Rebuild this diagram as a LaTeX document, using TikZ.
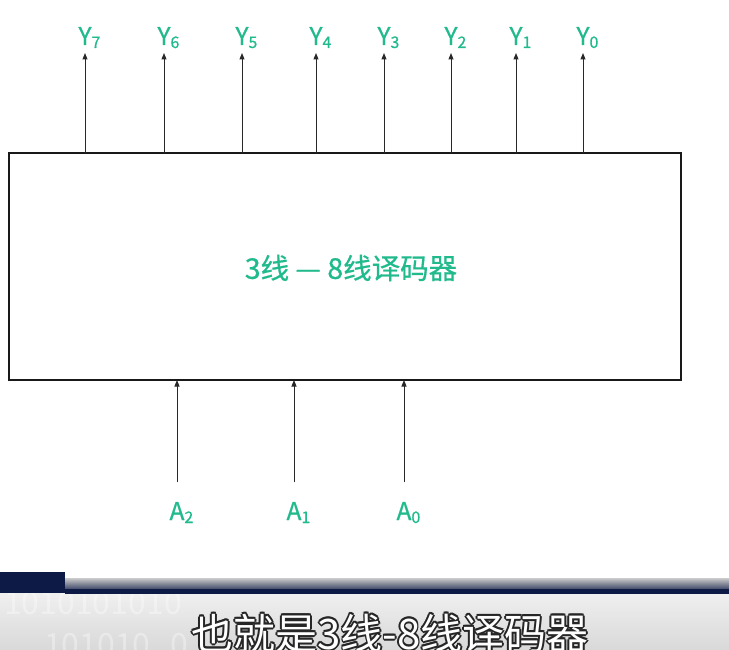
\documentclass[tikz,border=0pt]{standalone}
\usepackage{fontspec}
\setmainfont{Noto Sans CJK SC}
\newfontfamily\lblfont[FakeBold=0.6]{Noto Sans CJK SC}
\usetikzlibrary{arrows.meta}
\definecolor{lblgreen}{RGB}{32,186,140}
\definecolor{navy}{RGB}{14,26,70}
\definecolor{edge}{RGB}{40,40,40}
\newcommand{\pinlabel}[2]{#1\rlap{\raisebox{-3pt}{\fontsize{16}{16}\selectfont #2}}}
\tikzset{
  sig/.style={font=\lblfont\fontsize{24.5}{24.5}\selectfont, text=lblgreen, inner sep=0pt, anchor=base},
  arr/.style={draw=edge, line width=1pt, -{Triangle[length=6.5pt,width=5pt]}},
  blk/.style={draw=black!90, line width=2pt, inner sep=0pt, outer sep=0pt},
  subtxt/.style={font=\fontsize{42}{42}\selectfont, inner sep=0pt, anchor=base},
  bits/.style={font=\fontsize{32}{32}\selectfont, text=white, opacity=0.35, inner sep=0pt, anchor=base west}
}
\begin{document}
\begin{tikzpicture}[x=1pt,y=-1pt]
\useasboundingbox (0,0) rectangle (729,650);
\fill[white] (0,0) rectangle (729,650);
% decoder block
\node[blk, minimum width=672pt, minimum height=227pt, anchor=north west] (dec) at (9,153) {};
\node[font=\lblfont\fontsize{28.5}{28.5}\selectfont, text=lblgreen, inner sep=0pt] (title) at (351,268) {3线 — 8线译码器};
% outputs
\foreach \n/\x in {7/85,6/164,5/242,4/316,3/384,2/451,1/516,0/583}{
  \node[sig] (y\n) at (\x,45) {\pinlabel{Y}{\n}};
  \draw[arr] (dec.north -| y\n.base) -- ([yshift=-8pt]y\n.base);
}
% inputs
\foreach \n/\x in {2/177,1/294,0/404}{
  \node[sig] (a\n) at (\x,520) {\pinlabel{A}{\n}};
  \draw[arr] ([yshift=38pt]a\n.base) -- (dec.south -| a\n.base);
}
% subtitle band
\shade[top color=gray!12, bottom color=gray!30] (0,592) rectangle (729,650);
\node[bits] (bitsa) at (4,614) {1010101010};
\node[bits] (bitsb) at (44,656) {101010};
\node[bits] (bitsc) at (170,656) {0};
\fill[navy] (0,572) rectangle (65,593);
\shade[top color=gray!40, bottom color=navy] (65,578) rectangle (729,593);
\fill[navy] (0,589) rectangle (729,593);
\foreach \dx/\dy [count=\i] in {-1.6/0,1.6/0,0/-1.6,0/1.6,-1.2/-1.2,1.2/-1.2,-1.2/1.2,1.2/1.2,0/2.4}{
  \node[subtxt, text=black!85] (subsh\i) at (390+\dx,649+\dy) {也就是3线-8线译码器};
}
\node[subtxt, text=white] (sub) at (390,649) {也就是3线-8线译码器};
\end{tikzpicture}
\end{document}
